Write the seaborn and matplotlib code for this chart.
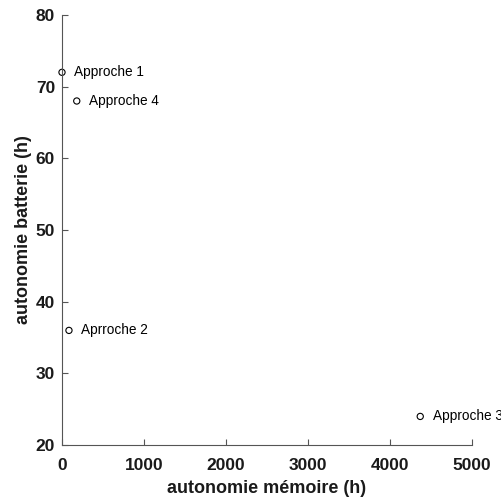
import pandas as pd
import seaborn as sns
import matplotlib.pyplot as plt

labels = ['Approche 1', 'Aprroche 2', 'Approche 3', 'Approche 4']
memoire = [0, 85, 4370, 180]
batterie = [72, 36, 24, 68]

df = pd.DataFrame({'memoire': memoire, 'batterie': batterie, 'label': labels})

sns.set_style("ticks")
plt.rcParams['font.family'] = ['Liberation Sans', 'DejaVu Sans']

fig = plt.figure(figsize=(5.02, 4.99), dpi=100)
ax = fig.add_axes([0.1235, 0.108, 0.8165, 0.862])

sns.scatterplot(data=df, x='memoire', y='batterie', ax=ax, marker='o', s=20,
                facecolor='none', edgecolor='black', linewidth=0.8, clip_on=False)

for _, r in df.iterrows():
    ax.annotate(r['label'], (r['memoire'], r['batterie']), xytext=(9, 0),
                textcoords='offset points', va='center', fontsize=9.8,
                color='black', annotation_clip=False)

ax.set_xlim(0, 5000)
ax.set_ylim(20, 80)
ax.set_xticks([0, 1000, 2000, 3000, 4000, 5000])
ax.set_yticks([20, 30, 40, 50, 60, 70, 80])
ax.tick_params(direction='in', length=4, width=0.8, colors='#555555',
               labelcolor='#1a1a1a', labelsize=12.5)
ax.tick_params(axis='x', pad=9)
ax.tick_params(axis='y', pad=5)
for t in ax.get_xticklabels() + ax.get_yticklabels():
    t.set_fontweight('bold')
for s in ['left', 'bottom']:
    ax.spines[s].set_color('#555555')
    ax.spines[s].set_linewidth(0.8)
sns.despine(ax=ax)

ax.set_xlabel('autonomie mémoire (h)', fontsize=13, fontweight='bold', color='#1a1a1a', labelpad=5)
ax.set_ylabel('autonomie batterie (h)', fontsize=13, fontweight='bold', color='#1a1a1a', labelpad=3)

fig.savefig('out.png', dpi=100)
